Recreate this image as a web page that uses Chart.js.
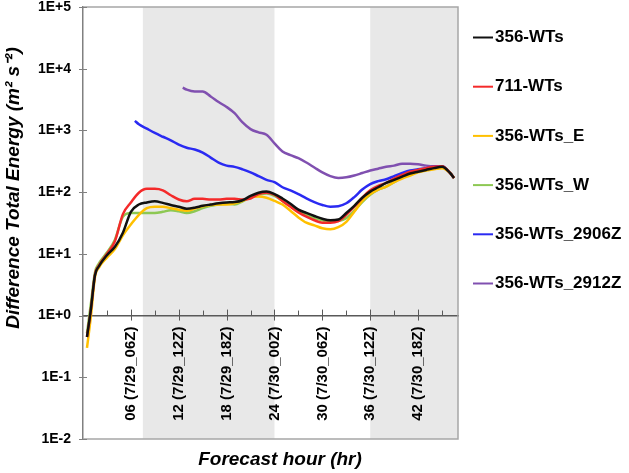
<!DOCTYPE html>
<html>
<head>
<meta charset="utf-8">
<script src="https://cdn.jsdelivr.net/npm/chart.js@4.4.0/dist/chart.umd.min.js"></script>
<style>
  body { margin: 0; background: #fff; }
</style>
</head>
<body>
<canvas id="graph" width="629" height="473"></canvas>
<script>
// forecast hours (shared x values)
const hours = [0.5, 1, 1.5, 2, 3, 4, 5, 6, 6.5, 7, 8, 9, 10, 11, 12, 12.5,
  13, 14, 15, 16, 17, 18, 19, 20, 21, 22, 23, 24, 25, 26, 27, 28, 29, 30, 31, 32,
  33, 34, 35, 36, 37, 38, 39, 40, 41, 42, 43, 44, 45, 46, 46.5];

// difference total energy per run (m2 s-2)
const wts356 = [0.45, 1.3, 4.5, 6.3, 9.5, 13, 22, 48, null, 63, 68, 71, 67, 62, 58, null,
  54, 56, 60, 63, 66, 68, 69, 74, 87, 98, 102, 93, 79, 65, 52, 46, 41, 37, 35, 36,
  46, 60, 81, 102, 120, 141, 158, 178, 200, 214, 229, 245, 257, 205, 170];
const wts711 = [0.45, 1.3, 4.6, 6.5, 10, 16, 44, 68, null, 98, 113, 113, 107, 89, 76, null,
  71, 78, 78, 76, 76, 78, 78, 76, 79, 93, 98, 91, 72, 58, 47, 40, 35, 32, 32, 34,
  43, 58, 81, 107, 126, 141, 166, 190, 214, 229, 245, 257, 263, 205, 170];
const wts356E = [0.30, 1.0, 4.2, 6.0, 8.7, 12, 20, 30, null, 43, 55, 58, 58, 55, 52, null,
  50, 54, 59, 62, 63, 63, 66, 72, 83, 85, 81, 72, 63, 50, 39, 32, 29, 26, 25, 27,
  33, 48, 72, 93, 110, 123, 145, 166, 186, 209, 224, 234, 245, 205, 170];
const wts356W = [0.52, 1.6, 5.0, 7.0, 10.5, 17, 40, 46, null, 46, 46, 46, 48, 51, 49, null,
  46, 49, 55, 60, 63, 65, 63, 71, 83, 91, 95, 87, 72, 59, 50, 43, 38, 35, 33, 34,
  38, 50, 69, 91, 110, 123, 145, 174, 195, 214, 229, 245, 257, 205, 170];
const wts2906Z = [null, null, null, null, null, null, null, null, 1430, 1260, 1070, 910, 790, 690, 590, null,
  525, 490, 437, 363, 302, 269, 257, 234, 209, 182, 158, 145, 120, 107, 93, 79, 69, 62, 58, 59,
  66, 83, 110, 135, 151, 162, 182, 204, 224, 234, 245, 257, 263, 205, 170];
const wts2912Z = [null, null, null, null, null, null, null, null, null, null, null, null, null, null, null, 4940,
  4570, 4270, 4270, 3550, 2880, 2400, 1900, 1350, 1050, 930, 850, 617, 457, 398, 355, 302, 251, 209, 182, 170,
  174, 186, 204, 224, 240, 257, 269, 288, 288, 282, 269, 263, 263, 205, 170];

const seriesNames = ['356-WTs', '711-WTs', '356-WTs_E', '356-WTs_W', '356-WTs_2906Z', '356-WTs_2912Z'];
const seriesValues = [wts356, wts711, wts356E, wts356W, wts2906Z, wts2912Z];
const seriesColors = ['#111111', '#f42a2a', '#ffc000', '#8dc853', '#2a2af2', '#8050b0'];

// axis ticks
const yTicks = [0.01, 0.1, 1, 10, 100, 1000, 10000, 100000];
const yTickLabels = ['1E-2', '1E-1', '1E+0', '1E+1', '1E+2', '1E+3', '1E+4', '1E+5'];
const xTicks = [6, 12, 18, 24, 30, 36, 42];
const xTickLabels = ['06 (7/29_06Z)', '12 (7/29_12Z)', '18 (7/29_18Z)', '24 (7/30_00Z)',
  '30 (7/30_06Z)', '36 (7/30_12Z)', '42 (7/30_18Z)'];

// night time shading (forecast hours)
const shadedHours = [[7.5, 24], [36, 47]];

const fontFamily = "'Liberation Sans', Arial, sans-serif";

// shading, frame, tick marks, titles, legend
const decorations = {
  id: 'decorations',
  beforeDraw(chart) {
    const {ctx, chartArea: a, scales: {x}} = chart;
    ctx.save();
    ctx.fillStyle = '#e8e8e8';
    shadedHours.forEach(([s, e]) => {
      const x0 = x.getPixelForValue(s), x1 = x.getPixelForValue(e);
      ctx.fillRect(x0, a.top, x1 - x0, a.bottom - a.top);
    });
    ctx.restore();
  },
  afterDraw(chart) {
    const {ctx, chartArea: a, scales: {x, y}} = chart;
    ctx.save();
    // frame
    ctx.strokeStyle = '#a6a6a6';
    ctx.lineWidth = 1.5;
    ctx.beginPath();
    ctx.moveTo(a.left, a.top); ctx.lineTo(a.right, a.top);
    ctx.lineTo(a.right, a.bottom); ctx.lineTo(a.left, a.bottom);
    ctx.stroke();

    // y tick marks crossing the axis
    ctx.strokeStyle = '#808080';
    ctx.lineWidth = 1;
    y.ticks.forEach(t => {
      const py = Math.round(y.getPixelForValue(t.value)) + 0.5;
      ctx.beginPath(); ctx.moveTo(a.left - 4, py); ctx.lineTo(a.left + 4, py); ctx.stroke();
    });

    // x tick marks on the 1E+0 line
    const axisY = y.getPixelForValue(1);
    ctx.strokeStyle = '#595959';
    x.ticks.forEach(t => {
      const px = Math.round(x.getPixelForValue(t.value)) + 0.5;
      ctx.beginPath();
      if (xTicks.includes(t.value)) { ctx.moveTo(px, axisY - 6); ctx.lineTo(px, axisY + 5); }
      else { ctx.moveTo(px, axisY - 5); ctx.lineTo(px, axisY); }
      ctx.stroke();
    });

    // axis titles
    ctx.fillStyle = '#000';
    ctx.textAlign = 'center';
    ctx.textBaseline = 'middle';
    ctx.font = 'italic bold 19px ' + fontFamily;
    ctx.fillText('Forecast hour (hr)', 280, 460);
    ctx.translate(14, 188);
    ctx.rotate(-Math.PI / 2);
    ctx.fillText('Difference Total Energy (m\u00b2 s\u207b\u00b2)', 0, 0);
    ctx.restore();

    // legend
    ctx.save();
    ctx.font = 'bold 17px ' + fontFamily;
    ctx.textBaseline = 'middle';
    chart.data.datasets.forEach((ds, i) => {
      const ly = 37.5 + i * 49.2;
      ctx.strokeStyle = ds.borderColor;
      ctx.lineWidth = 2;
      ctx.beginPath(); ctx.moveTo(473, ly); ctx.lineTo(493, ly); ctx.stroke();
      ctx.fillStyle = '#000';
      ctx.fillText(ds.label, 495, ly);
    });
    ctx.restore();
  }
};

let graph = new Chart(document.getElementById('graph'), {
  type: 'line',
  data: {
    datasets: seriesNames.map((name, i) => ({
      label: name,
      data: hours.map((h, j) => ({x: h, y: seriesValues[i][j]})),
      borderColor: seriesColors[i],
      backgroundColor: seriesColors[i],
      borderWidth: 2.5,
      pointRadius: 0,
      cubicInterpolationMode: 'monotone',
      spanGaps: true
    }))
  },
  options: {
    responsive: false,
    animation: false,
    layout: { padding: { top: 7, right: 171, bottom: 34, left: 0 } },
    plugins: {
      legend: { display: false },
      tooltip: { enabled: false }
    },
    scales: {
      x: {
        type: 'linear',
        min: 0,
        max: 47,
        position: { y: 1 },
        afterBuildTicks: s => {
          const t = [];
          for (let v = 3; v < 47; v += 3) t.push({value: v});
          s.ticks = t;
        },
        afterFit: s => { s.paddingLeft = 0; s.paddingRight = 0; },
        grid: { display: false, drawTicks: false },
        border: { display: true, color: '#595959', width: 1.5 },
        ticks: {
          autoSkip: false,
          minRotation: 90,
          maxRotation: 90,
          padding: 11,
          color: '#000',
          font: { family: fontFamily, size: 15, weight: 'bold' },
          callback: v => {
            const i = xTicks.indexOf(v);
            return i >= 0 ? xTickLabels[i] : '';
          }
        }
      },
      y: {
        type: 'logarithmic',
        min: 0.01,
        max: 100000,
        afterBuildTicks: s => { s.ticks = yTicks.map(v => ({value: v})); },
        afterFit: s => { s.width = 83; s.paddingTop = 0; s.paddingBottom = 0; },
        grid: { display: false, drawTicks: false },
        border: { display: true, color: '#808080', width: 1.5 },
        ticks: {
          padding: 12,
          color: '#000',
          font: { family: fontFamily, size: 14, weight: 'bold' },
          callback: v => yTickLabels[yTicks.indexOf(v)]
        }
      }
    }
  },
  plugins: [decorations]
});
</script>
</body>
</html>
